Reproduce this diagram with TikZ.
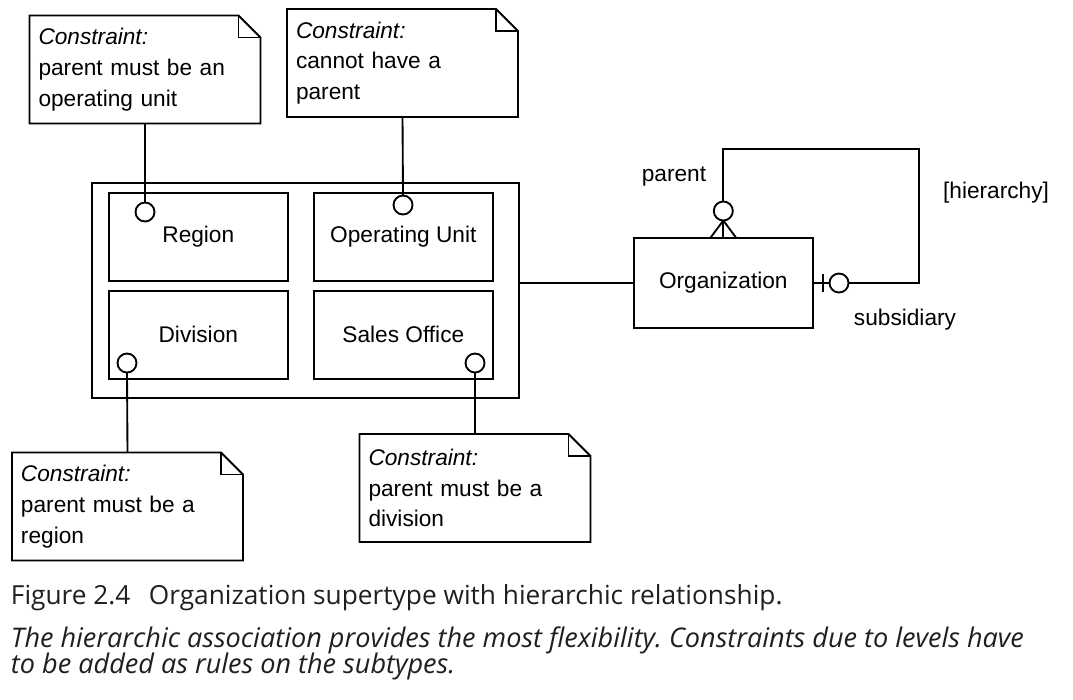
\documentclass[tikz,border=0pt]{standalone}
\usepackage{fontspec}
\setmainfont{Liberation Sans}
\newfontfamily\capfont{Open Sans}
\def\u{0.75pt}
\newcommand\tightlines{\setlength{\lineskiplimit}{-20pt}}
\begin{document}
\frenchspacing
\begin{tikzpicture}[x=0.75pt,y=-0.75pt,line width=1.4pt,
  every node/.style={inner sep=0pt,outer sep=0pt},
  dfont/.style={font=\fontsize{17}{23}\selectfont},
  entity/.style={draw,rectangle,dfont,minimum width=178.7*\u,minimum height=88.3*\u},
  notebox/.style={rectangle,dfont,minimum width=231*\u,minimum height=108*\u,
     text width=213*\u,inner xsep=9*\u,align=left},
  knob/.style={draw,circle,fill=white,minimum size=19*\u},
  lbl/.style={dfont},
  capstyle/.style={text=black!88,font=\capfont\fontsize{19.7}{17.5}\selectfont}]
\useasboundingbox (0,0) rectangle (1073,699);

% supertype and subtypes
\node[draw,rectangle,minimum width=427.3*\u,minimum height=214.7*\u] (super) at (305.3,290.3) {};
\node[entity] (region) at (198.3,236.8) {Region};
\node[entity] (opunit) at (403.3,236.8) {Operating Unit};
\node[entity] (division) at (198.3,334.8) {Division};
\node[entity] (sales) at (403.3,334.8) {Sales Office};

% organization
\node[entity,minimum height=90*\u] (org) at (723.3,283) {Organization};

% notes
\node[notebox] (n1) at (145,69.5) {\textit{Constraint:}\\parent must be an\\operating unit};
\node[notebox] (n2) at (402.5,63) {\textit{Constraint:}\\cannot have a\\parent};
\node[notebox] (n3) at (127.5,506.5) {\textit{Constraint:}\\parent must be a\\region};
\node[notebox] (n4) at (475,488) {\textit{Constraint:}\\parent must be a\\division};
\foreach \n in {n1,n2,n3,n4} {
  \draw ([xshift=-22*\u]\n.north east) -- (\n.north west) -- (\n.south west) -- (\n.south east) -- ([yshift=-22*\u]\n.north east) -- cycle;
  \draw ([xshift=-22*\u]\n.north east) |- ([yshift=-22*\u]\n.north east);
}

% circles on subtypes
\node[knob] (kr) at (145,212) {};
\node[knob] (ko) at (403,205) {};
\node[knob] (kd) at (127,363) {};
\node[knob] (ks) at (475,363) {};
\draw (n1.south) -- (kr.north);
\draw (n2.south) -- (ko.north);
\draw (kd.south) -- (n3.north);
\draw (ks.south) -- (n4.north);

% super to organization
\draw (org.west) -- (org.west -| super.east);

% recursive relationship
\node[knob] (pc) at (723.3,211) {};
\node[knob] (sc) at (839,283) {};
\coordinate (ltl) at (723.3,149);
\coordinate (ltr) at (919,149);
\coordinate (lbr) at (919,283);
\draw (pc.north) -- (ltl) -- (ltr) -- (lbr) -- (sc.east);
\draw (pc.south) -- ([xshift=-13*\u]org.north);
\draw (pc.south) -- (org.north);
\draw (pc.south) -- ([xshift=13*\u]org.north);
\draw (sc.west) -- (org.east);
\draw ([xshift=10*\u,yshift=9*\u]org.east) -- ([xshift=10*\u,yshift=-9*\u]org.east);

\node[lbl] (lparent) at (674,177) {parent};
\node[lbl] (lhier) at (996,193) {[hierarchy]};
\node[lbl] (lsub) at (905,320) {subsidiary};

% caption
\node[anchor=base west,capstyle] (cap1) at (11,604)
  {Figure 2.4\hspace{0.7em}Organization supertype with hierarchic relationship.};
\node[anchor=base west,align=left,capstyle,font=\capfont\itshape\fontsize{20.3}{19.2}\selectfont\tightlines] (cap2) at (11,673)
  {The hierarchic association provides the most flexibility. Constraints due to levels have\\to be added as rules on the subtypes.};
\end{tikzpicture}
\end{document}
